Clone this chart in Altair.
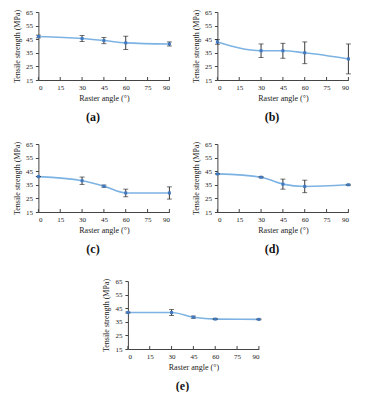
import altair as alt
import pandas as pd

angles = [0, 30, 45, 60, 90]
mean_a = [47.0, 45.5, 44.0, 42.3, 41.5]
err_a = [1.0, 2.2, 2.3, 4.9, 1.5]
mean_b = [43.0, 36.5, 36.5, 35.0, 30.5]
err_b = [1.7, 5.0, 5.5, 8.0, 11.0]
mean_c = [41.0, 38.0, 34.0, 29.0, 29.0]
err_c = [0.0, 2.7, 0.8, 2.8, 4.5]
mean_d = [43.0, 40.6, 35.5, 33.8, 35.0]
err_d = [0.0, 0.5, 3.7, 4.6, 0.4]
mean_e = [41.8, 41.8, 38.4, 37.0, 36.8]
err_e = [0.4, 2.2, 0.8, 0.4, 0.3]
labels = ["(a)", "(b)", "(c)", "(d)", "(e)"]
x_ticks = [0, 15, 30, 45, 60, 75, 90]
y_ticks = [15, 25, 35, 45, 55, 65]

FONT = "Liberation Serif"
LINE = "#7DB3E3"
MARK = "#3F78C0"
W, H = 131, 68


def xenc():
    return alt.X("angle:Q", scale=alt.Scale(domain=[0, 90], nice=False),
                 axis=alt.Axis(values=x_ticks, title="Raster angle (°)", ticks=False))


def yenc(field):
    return alt.Y(field + ":Q", scale=alt.Scale(domain=[15, 65], nice=False),
                 axis=alt.Axis(values=y_ticks, title="Tensile strength (MPa)"))


def panel(mean, err, label):
    df = pd.DataFrame({
        "angle": angles,
        "mean": mean,
        "lo": [m - e for m, e in zip(mean, err)],
        "hi": [m + e for m, e in zip(mean, err)],
    })
    base = alt.Chart(df)
    line = base.mark_line(interpolate="monotone", color=LINE, strokeWidth=1.6).encode(
        x=xenc(), y=yenc("mean"))
    pts = base.mark_point(shape="square", filled=True, size=9, color=MARK, opacity=1).encode(
        x=xenc(), y=yenc("mean"))
    rule = base.mark_rule(color="#222", strokeWidth=0.9).encode(
        x=xenc(), y=yenc("lo"), y2="hi:Q")
    cap_lo = base.mark_tick(orient="horizontal", color="#222", size=5, thickness=0.9).encode(
        x=xenc(), y=yenc("lo"))
    cap_hi = base.mark_tick(orient="horizontal", color="#222", size=5, thickness=0.9).encode(
        x=xenc(), y=yenc("hi"))
    xt = alt.Chart(pd.DataFrame({"angle": x_ticks})).mark_rule(color="#444", strokeWidth=1).encode(
        x=xenc(), y=alt.value(H), y2=alt.value(H - 3))
    return alt.layer(line, rule, cap_lo, cap_hi, pts, xt).properties(
        width=W, height=H,
        title=alt.TitleParams(label, orient="bottom", anchor="middle", frame="bounds",
                              fontSize=12, fontWeight="bold", font=FONT, color="#111",
                              offset=10))


pa = panel(mean_a, err_a, labels[0])
pb = panel(mean_b, err_b, labels[1])
pc = panel(mean_c, err_c, labels[2])
pd_ = panel(mean_d, err_d, labels[3])
pe = panel(mean_e, err_e, labels[4])

row1 = alt.hconcat(pa, pb, spacing=18)
row2 = alt.hconcat(pc, pd_, spacing=18)
top = alt.vconcat(row1, row2, spacing=17)

chart = alt.vconcat(top, pe, spacing=22, center=True).properties(
    padding={"left": 5, "top": 0, "right": 5, "bottom": 0}
).configure_view(stroke=None).configure_axis(
    grid=False,
    labelFont=FONT, titleFont=FONT,
    labelFontSize=7, titleFontSize=8,
    titleFontWeight="normal",
    labelColor="#222", titleColor="#222",
    domainColor="#444", tickColor="#444",
    tickSize=3, labelPadding=3, titlePadding=4,
)

chart.save("out.html", embed_options={"renderer": "svg", "actions": False})
